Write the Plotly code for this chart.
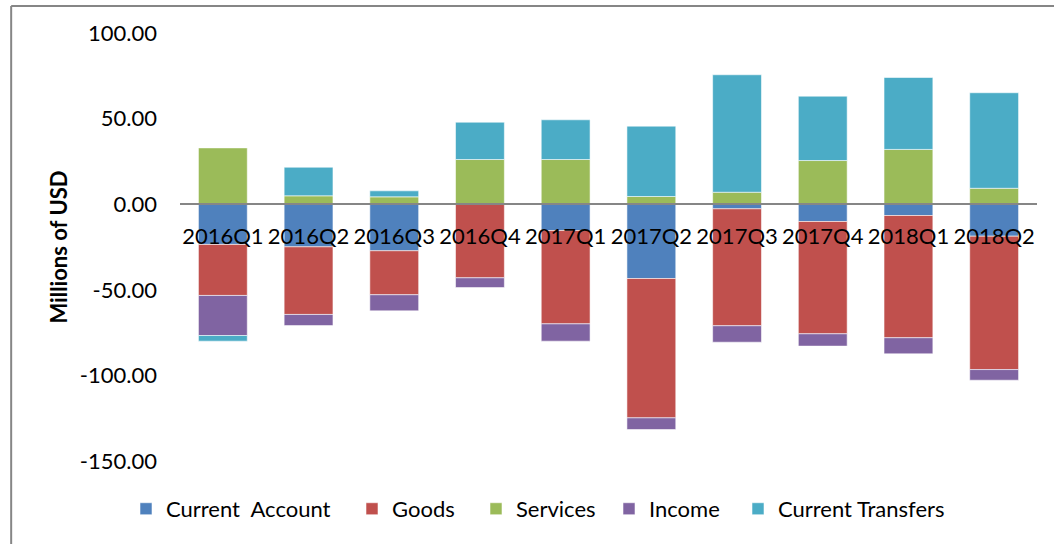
import plotly.graph_objects as go

quarters = ["2016Q1", "2016Q2", "2016Q3", "2016Q4", "2017Q1",
            "2017Q2", "2017Q3", "2017Q4", "2018Q1", "2018Q2"]

current_account = [-23.5, -24.9, -27.2, 0.0, -15.4, -43.4, -2.7, -10.1, -6.6, -18.7]
goods = [-29.8, -39.5, -25.7, -43.0, -54.5, -81.4, -68.3, -65.6, -71.4, -77.9]
services = [32.9, 4.9, 4.3, 26.1, 26.1, 4.5, 7.0, 25.5, 32.0, 9.3]
income = [-23.4, -6.5, -9.4, -5.7, -10.1, -6.8, -9.6, -7.2, -9.4, -6.2]
current_transfers = [-3.3, 16.7, 3.5, 21.8, 23.2, 41.1, 68.6, 37.6, 42.0, 55.8]

y_ticks = [100, 50, 0, -50, -100, -150]
y_tick_text = [f"{v:.2f}" for v in y_ticks]

series = [
    ("Current\u00a0 Account", current_account, "#4F81BD"),
    ("Goods", goods, "#C0504D"),
    ("Services", services, "#9BBB59"),
    ("Income", income, "#8064A2"),
    ("Current Transfers", current_transfers, "#4BACC6"),
]

FONT = "Lato"
PLOT_L, PLOT_R = 180, 1037
PLOT_W = PLOT_R - PLOT_L

# left edge (px) of each legend entry along the bottom row
legend_left_px = [126, 352, 476, 609, 738]
legend_ids = ["legend", "legend2", "legend3", "legend4", "legend5"]

fig = go.Figure()
for (name, vals, color), lid in zip(series, legend_ids):
    fig.add_trace(go.Bar(
        x=quarters, y=vals, name=name, legend=lid,
        marker=dict(color=color, line=dict(color="rgba(255,255,255,0.55)", width=1)),
    ))

legend_layout = {}
for lid, px in zip(legend_ids, legend_left_px):
    legend_layout[lid] = dict(
        orientation="h", x=(px - PLOT_L) / PLOT_W, xanchor="left",
        y=-0.112, yanchor="middle",
        font=dict(family=FONT, size=22, color="black"),
        itemwidth=30, bgcolor="rgba(0,0,0,0)",
    )

fig.update_layout(
    barmode="relative",
    bargap=0.43,
    width=1054, height=544,
    margin=dict(l=PLOT_L, r=1054 - PLOT_R, t=33, b=83),
    paper_bgcolor="white",
    plot_bgcolor="white",
    font=dict(family=FONT, size=22, color="black"),
    showlegend=True,
    xaxis=dict(
        type="category",
        anchor="free", position=(0 - (-150)) / (100 - (-150)),
        showline=True, linecolor="#868686", linewidth=2,
        showgrid=False, zeroline=False,
        ticks="", ticklabelstandoff=12,
        tickfont=dict(family=FONT, size=22, color="black"),
        layer="above traces",
    ),
    yaxis=dict(
        range=[-150, 100],
        tickvals=y_ticks, ticktext=y_tick_text,
        showgrid=False, zeroline=False, showline=False,
        ticks="", ticklabelstandoff=22,
        tickfont=dict(family=FONT, size=22, color="black"),
        title=dict(text="Millions of USD",
                   font=dict(family=FONT, size=22, color="black", weight="bold"),
                   standoff=6),
    ),
    shapes=[
        dict(type="line", xref="paper", yref="paper", x0=-0.197, x1=1.1, y0=1.0631, y1=1.0631,
             line=dict(color="#868686", width=2)),
        dict(type="line", xref="paper", yref="paper", x0=-0.197, x1=-0.197, y0=1.0631, y1=-0.3,
             line=dict(color="#868686", width=2)),
    ],
    **legend_layout,
)

fig.write_html("out.html")
